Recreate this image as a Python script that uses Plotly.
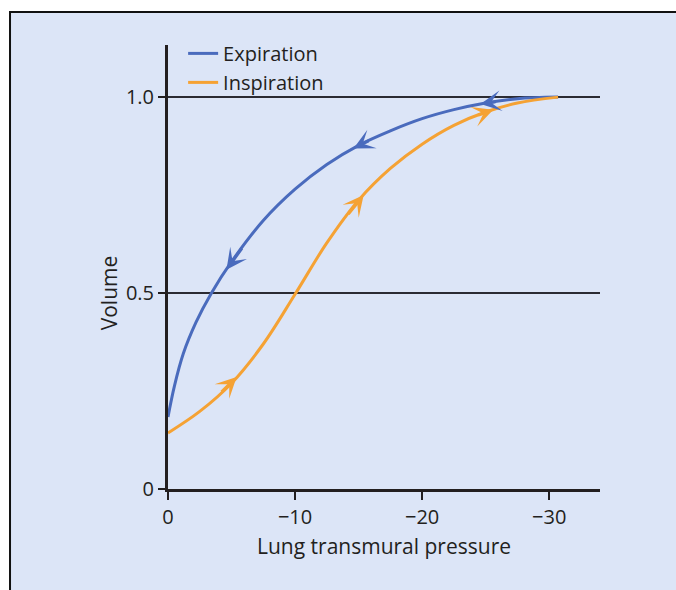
import numpy as np
import plotly.graph_objects as go

# Pressure-volume loop of the lung
expiration_pressure = [0, -0.5, -1.2, -2.2, -3.4, -5.0, -7.5, -10.0, -12.5, -15.0, -17.5, -20.0, -22.5, -25.0, -27.5, -30.7]
expiration_volume = [0.184, 0.262, 0.345, 0.425, 0.499, 0.58, 0.685, 0.765, 0.828, 0.877, 0.914, 0.945, 0.968, 0.985, 0.996, 1.0]

inspiration_pressure = [0, -2.5, -5.0, -7.5, -10.0, -12.5, -15.0, -17.5, -20.0, -22.5, -25.0, -27.5, -30.7]
inspiration_volume = [0.143, 0.198, 0.27, 0.37, 0.497, 0.628, 0.737, 0.818, 0.88, 0.928, 0.962, 0.985, 1.0]

# where the direction arrows sit on each branch
expiration_arrow_pressure = [-5.0, -15.0, -25.0]
inspiration_arrow_pressure = [-5.0, -15.0, -25.2]

x_tick_values = [0, -10, -20, -30]
x_tick_labels = ["0", "\u221210", "\u221220", "\u221230"]
y_tick_values = [0, 0.5, 1.0]
y_tick_labels = ["0", "0.5", "1.0"]

BLUE = "#4a6bbd"
ORANGE = "#f5a234"
BG = "#dce5f7"
INK = "#231f20"
FONT = "Open Sans"

fig = go.Figure()
fig.add_trace(go.Scatter(x=expiration_pressure, y=expiration_volume, mode="lines",
                         name="Expiration", line=dict(color=BLUE, width=3, shape="spline")))
fig.add_trace(go.Scatter(x=inspiration_pressure, y=inspiration_volume, mode="lines",
                         name="Inspiration", line=dict(color=ORANGE, width=3, shape="spline")))


def curve_y(px, xs, ys):
    return float(np.interp(-px, -np.asarray(xs), np.asarray(ys)))


def add_arrows(points, xs, ys, color, toward_zero):
    # each arrowhead is centred on its point; the short tail lies just behind it on the curve
    d = 1.0 if toward_zero else -1.0
    for p in points:
        head = p + 0.4 * d
        tail = p - 0.9 * d
        fig.add_annotation(x=head, y=curve_y(head, xs, ys), ax=tail, ay=curve_y(tail, xs, ys),
                           xref="x", yref="y", axref="x", ayref="y", text="",
                           showarrow=True, arrowhead=3, arrowsize=1.15, arrowwidth=3,
                           arrowcolor=color, standoff=0)


add_arrows(expiration_arrow_pressure, expiration_pressure, expiration_volume, BLUE, True)
add_arrows(inspiration_arrow_pressure, inspiration_pressure, inspiration_volume, ORANGE, False)

fig.add_annotation(text="Volume", x=-0.136, xref="paper", xanchor="center", y=0.5, yref="y",
                   yanchor="middle", textangle=-90, showarrow=False,
                   font=dict(family=FONT, size=21, color=INK))

# framed panel behind the chart
fig.add_shape(type="rect", xref="paper", yref="paper", x0=-0.3657, x1=1.3, y0=-0.3, y1=1.0743,
              fillcolor=BG, line=dict(color="#111111", width=2), layer="below")

fig.update_layout(
    width=676, height=590,
    margin=dict(l=168, r=76, t=45, b=101),
    paper_bgcolor="white", plot_bgcolor=BG,
    font=dict(family=FONT, size=20, color=INK),
    showlegend=True,
    legend=dict(x=0.035, y=1.025, xanchor="left", yanchor="top", bgcolor="rgba(0,0,0,0)",
                font=dict(family=FONT, size=20, color=INK), tracegroupgap=0, itemwidth=30),
    xaxis=dict(range=[0, -34], tickvals=x_tick_values, ticktext=x_tick_labels,
               showgrid=False, zeroline=False, showline=True, linecolor=INK, linewidth=3,
               ticks="outside", ticklen=8, tickwidth=2, tickcolor=INK,
               tickfont=dict(size=20),
               title=dict(text="Lung transmural pressure", standoff=11, font=dict(size=21))),
    yaxis=dict(range=[0, 1.133], tickvals=y_tick_values, ticktext=y_tick_labels,
               showgrid=True, gridcolor="#2b2b33", gridwidth=2, zeroline=False,
               showline=True, linecolor=INK, linewidth=3,
               ticks="outside", ticklen=7, tickwidth=2, tickcolor=INK,
               tickfont=dict(size=20)),
)

fig.write_html("out.html")
